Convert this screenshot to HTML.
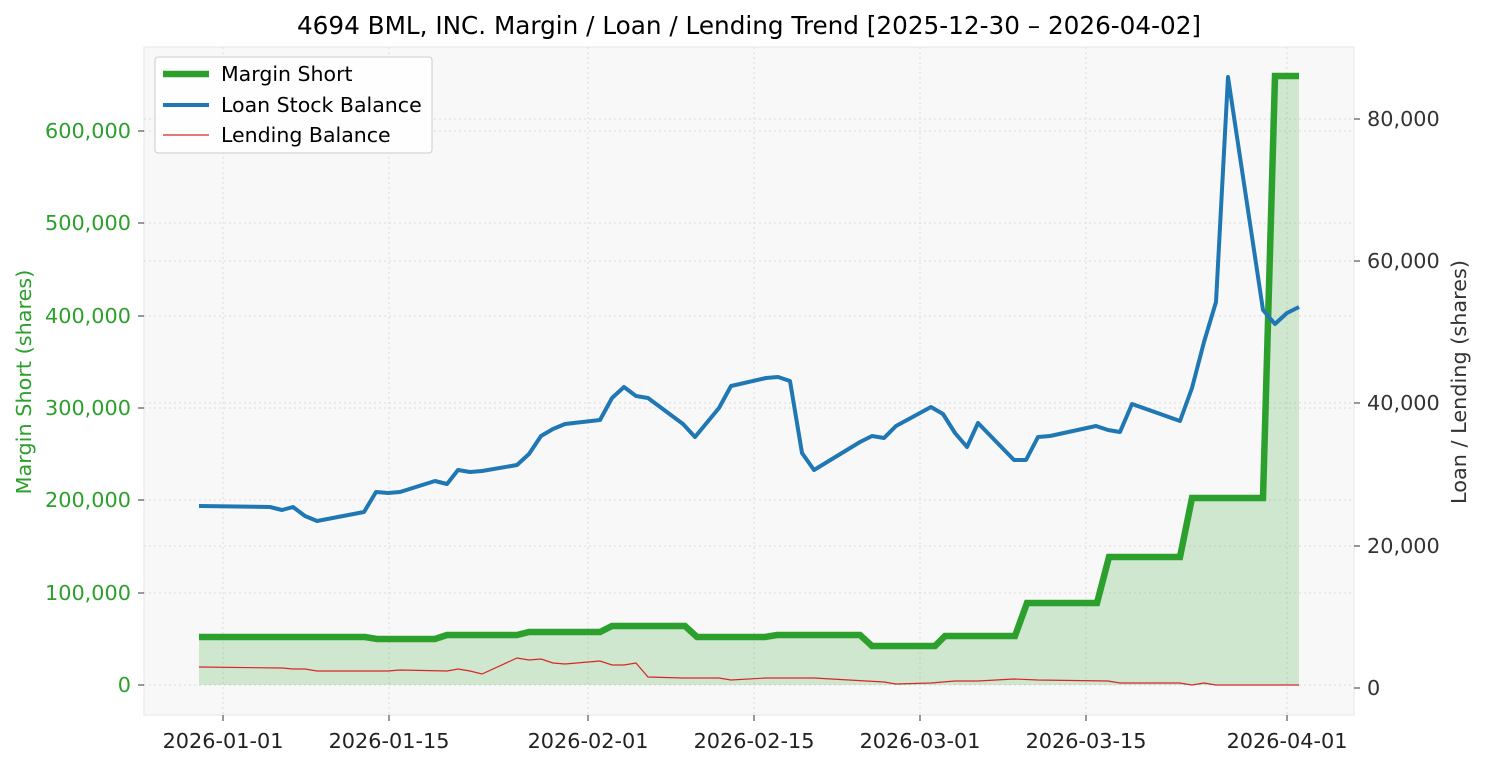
<!DOCTYPE html>
<html><head><meta charset="utf-8"><style>
body{margin:0;background:#fff;font-family:"Liberation Sans","DejaVu Sans",sans-serif;}
svg text{font-family:"DejaVu Sans","Liberation Sans",sans-serif;}
</style></head><body>
<svg width="1485" height="765" viewBox="0 0 1485 765" xmlns="http://www.w3.org/2000/svg">
<rect width="1485" height="765" fill="#fff"/>
<rect x="144" y="47" width="1210" height="668" fill="#f8f8f8" stroke="#e6e6e6"/>
<g stroke="#dcdcdc" stroke-width="1" stroke-dasharray="2,3">
<line x1="144" x2="1354" y1="685" y2="685"/><line x1="144" x2="1354" y1="593" y2="593"/><line x1="144" x2="1354" y1="500" y2="500"/><line x1="144" x2="1354" y1="408" y2="408"/><line x1="144" x2="1354" y1="316" y2="316"/><line x1="144" x2="1354" y1="223" y2="223"/><line x1="144" x2="1354" y1="131" y2="131"/>
<line x1="144" x2="1354" y1="546" y2="546"/><line x1="144" x2="1354" y1="403" y2="403"/><line x1="144" x2="1354" y1="261" y2="261"/><line x1="144" x2="1354" y1="119" y2="119"/>
<line y1="47" y2="715" x1="223" x2="223"/><line y1="47" y2="715" x1="389" x2="389"/><line y1="47" y2="715" x1="588" x2="588"/><line y1="47" y2="715" x1="754" x2="754"/><line y1="47" y2="715" x1="920" x2="920"/><line y1="47" y2="715" x1="1086" x2="1086"/><line y1="47" y2="715" x1="1287" x2="1287"/>
</g>
<polygon fill="#2ca02c" fill-opacity="0.2" points="199,685 199,637 365,637 377,639 435,639 447,635 517,635 529,632 600,632 612,626 685,626 697,637 765,637 777,635 860,635 872,646 935,646 945,636 1015,636 1027,603 1097,603 1109,557 1180,557 1192,498 1263,498 1275,76 1299,76 1299,685"/>
<polyline fill="none" stroke="#2ca02c" stroke-width="6.5" points="199,637 365,637 377,639 435,639 447,635 517,635 529,632 600,632 612,626 685,626 697,637 765,637 777,635 860,635 872,646 935,646 945,636 1015,636 1027,603 1097,603 1109,557 1180,557 1192,498 1263,498 1275,76 1299,76"/>
<polyline fill="none" stroke="#1f77b4" stroke-width="4" stroke-linejoin="round" points="199,506 270,507 282,510 293,507 305,516 317,521 364,512 376,492 388,493 400,492 435,481 447,484 458,470 470,472 482,471 517,465 529,454 541,436 553,429 565,424 600,420 612,398 624,387 636,396 648,398 683,424 695,437 719,408 731,386 766,378 778,377 790,381 802,453 814,470 860,442 872,436 884,438 896,426 931,407 943,414 955,433 967,447 978,423 1014,460 1026,460 1038,437 1050,436 1096,426 1108,430 1120,432 1132,404 1180,421 1192,388 1204,342 1216,302 1228,77 1263,310 1275,324 1287,313 1299,307"/>
<polyline fill="none" stroke="#d62728" stroke-width="1.2" points="199,667 282,668 293,669 305,669 317,671 388,671 400,670 447,671 458,669 470,671 482,674 517,658 529,660 541,659 553,663 565,664 600,661 612,665 624,665 636,663 648,677 683,678 719,678 731,680 766,678 814,678 884,682 896,684 931,683 943,682 955,681 978,681 1014,679 1038,680 1108,681 1120,683 1180,683 1192,685 1204,683 1216,685 1299,685"/>
<g font-size="20.8" fill="#2ca02c" text-anchor="end">
<text x="131" y="692">0</text><text x="131" y="600">100,000</text><text x="131" y="507">200,000</text><text x="131" y="415">300,000</text><text x="131" y="323">400,000</text><text x="131" y="230">500,000</text><text x="131" y="138">600,000</text>
</g>
<g stroke="#333"><line x1="138" x2="144" y1="685" y2="685"/><line x1="138" x2="144" y1="593" y2="593"/><line x1="138" x2="144" y1="500" y2="500"/><line x1="138" x2="144" y1="408" y2="408"/><line x1="138" x2="144" y1="316" y2="316"/><line x1="138" x2="144" y1="223" y2="223"/><line x1="138" x2="144" y1="131" y2="131"/>
<line x1="1354" x2="1360" y1="688" y2="688"/><line x1="1354" x2="1360" y1="546" y2="546"/><line x1="1354" x2="1360" y1="403" y2="403"/><line x1="1354" x2="1360" y1="261" y2="261"/><line x1="1354" x2="1360" y1="119" y2="119"/>
<line y1="715" y2="721" x1="223" x2="223"/><line y1="715" y2="721" x1="389" x2="389"/><line y1="715" y2="721" x1="588" x2="588"/><line y1="715" y2="721" x1="754" x2="754"/><line y1="715" y2="721" x1="920" x2="920"/><line y1="715" y2="721" x1="1086" x2="1086"/><line y1="715" y2="721" x1="1287" x2="1287"/></g>
<g font-size="20.8" fill="#333">
<text x="1367" y="695">0</text><text x="1367" y="553">20,000</text><text x="1367" y="410">40,000</text><text x="1367" y="268">60,000</text><text x="1367" y="126">80,000</text>
</g>
<g font-size="20.8" fill="#222" text-anchor="middle">
<text x="223" y="748">2026-01-01</text><text x="389" y="748">2026-01-15</text><text x="588" y="748">2026-02-01</text><text x="754" y="748">2026-02-15</text><text x="920" y="748">2026-03-01</text><text x="1086" y="748">2026-03-15</text><text x="1287" y="748">2026-04-01</text>
</g>
<text x="31" y="382" font-size="20.8" fill="#2ca02c" text-anchor="middle" transform="rotate(-90 31 382)">Margin Short (shares)</text>
<text x="1466" y="382" font-size="20.8" fill="#333" text-anchor="middle" transform="rotate(-90 1466 382)">Loan / Lending (shares)</text>
<text x="749" y="34" font-size="24.7" fill="#000" text-anchor="middle">4694 BML, INC. Margin / Loan / Lending Trend [2025-12-30 – 2026-04-02]</text>
<rect x="155" y="57" width="277" height="96" rx="3" fill="#fff" fill-opacity="0.85" stroke="#ccc"/>
<line x1="163" x2="209" y1="74" y2="74" stroke="#2ca02c" stroke-width="6.5"/>
<line x1="163" x2="209" y1="105" y2="105" stroke="#1f77b4" stroke-width="4"/>
<line x1="163" x2="209" y1="135" y2="135" stroke="#d62728" stroke-width="1.2"/>
<g font-size="20.5" fill="#000"><text x="221" y="81">Margin Short</text><text x="221" y="112">Loan Stock Balance</text><text x="221" y="142">Lending Balance</text></g>
</svg>
</body></html>
